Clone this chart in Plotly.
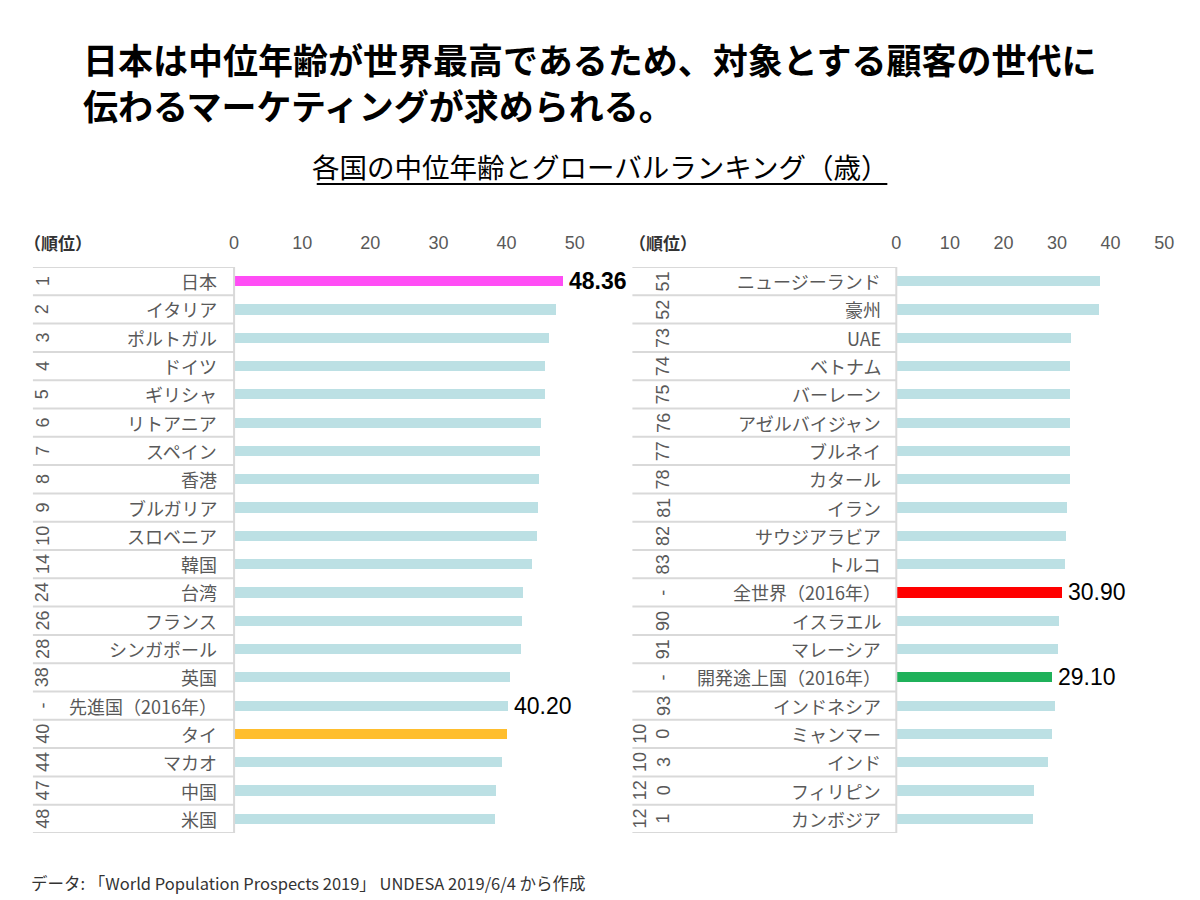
import plotly.graph_objects as go

# ---------------- data ----------------
names_left = ["日本", "イタリア", "ポルトガル", "ドイツ", "ギリシャ", "リトアニア", "スペイン", "香港",
              "ブルガリア", "スロベニア", "韓国", "台湾", "フランス", "シンガポール", "英国",
              "先進国（2016年）", "タイ", "マカオ", "中国", "米国"]
ranks_left = ["1", "2", "3", "4", "5", "6", "7", "8", "9", "10", "14", "24", "26", "28", "38",
              "-", "40", "44", "47", "48"]
values_left = [48.36, 47.3, 46.2, 45.7, 45.6, 45.1, 44.9, 44.8, 44.6, 44.5, 43.7, 42.5, 42.3,
               42.2, 40.5, 40.2, 40.1, 39.4, 38.4, 38.3]

names_right = ["ニュージーランド", "豪州", "UAE", "ベトナム", "バーレーン", "アゼルバイジャン", "ブルネイ",
               "カタール", "イラン", "サウジアラビア", "トルコ", "全世界（2016年）", "イスラエル", "マレーシア",
               "開発途上国（2016年）", "インドネシア", "ミャンマー", "インド", "フィリピン", "カンボジア"]
ranks_right = ["51", "52", "73", "74", "75", "76", "77", "78", "81", "82", "83", "-", "90", "91",
               "-", "93", "100", "103", "120", "121"]
values_right = [38.0, 37.9, 32.6, 32.5, 32.5, 32.4, 32.4, 32.4, 32.0, 31.8, 31.5, 30.9, 30.4,
                30.3, 29.1, 29.7, 29.2, 28.4, 25.7, 25.6]

highlight = {"日本": "#FF4DF5", "タイ": "#FFBE2E", "全世界（2016年）": "#FF0000",
             "開発途上国（2016年）": "#1FB15A"}
labelled = {"日本": ("48.36", True), "先進国（2016年）": ("40.20", False),
            "全世界（2016年）": ("30.90", False), "開発途上国（2016年）": ("29.10", False)}
ticks = [0, 10, 20, 30, 40, 50]

BASE = "#BCE0E4"
W, H = 1200, 900
OFF = 8   # page body margin
JP = "Noto Sans CJK JP"
LAT = "Liberation Sans, Arial, sans-serif"
GREY = "#595959"
LINE = "#D9D9D9"

# layout geometry (pixels, in screenshot coordinates)
ROW_TOP, ROW_BOT = 267, 833
L0, LPX = 230, 6.84      # left x=0 pixel, px per unit
R0, RPX = 895, 5.38
XMAX = 55


def px(x):
    return (x - OFF) / W


def py(y):
    return 1 - (y - OFF) / H


fig = go.Figure()

panels = [
    dict(names=names_left, ranks=ranks_left, vals=values_left, xa="x", ya="y",
         tab_l=28, zero=L0, rank_r=50, name_r=215),
    dict(names=names_right, ranks=ranks_right, vals=values_right, xa="x2", ya="y2",
         tab_l=630, zero=R0, rank_r=673, name_r=882),
]

annotations = []
shapes = []

for p in panels:
    n = len(p["names"])
    cols = [highlight.get(nm, BASE) for nm in p["names"]]
    fig.add_trace(go.Bar(
        x=p["vals"], y=list(range(n)), orientation="h", width=0.36,
        marker=dict(color=cols, line=dict(width=0)),
        xaxis=p["xa"], yaxis=p["ya"], showlegend=False, hoverinfo="x",
    ))
    yref = p["ya"]
    for i in range(n + 1):
        shapes.append(dict(type="line", xref="paper", yref=yref,
                           x0=px(p["tab_l"]), x1=px(p["zero"]), y0=i - 0.5, y1=i - 0.5,
                           line=dict(color=LINE, width=2)))
    shapes.append(dict(type="line", xref="paper", yref=yref,
                       x0=px(p["zero"]), x1=px(p["zero"]), y0=-0.5, y1=n - 0.5,
                       line=dict(color=LINE, width=2)))
    for i, (nm, rk, v) in enumerate(zip(p["names"], p["ranks"], p["vals"])):
        rk_txt = "<br>".join([rk[j:j + 2] for j in range(0, len(rk), 2)])
        annotations.append(dict(xref="paper", yref=yref, x=px(p["rank_r"]), y=i,
                                text=rk_txt, textangle=-90, showarrow=False,
                                xanchor="right", yanchor="middle",
                                font=dict(family=LAT, size=18, color=GREY)))
        annotations.append(dict(xref="paper", yref=yref, x=px(p["name_r"]), y=i,
                                text=nm, showarrow=False, xanchor="right", yanchor="middle",
                                font=dict(family=JP, size=18, color=GREY)))
        if nm in labelled:
            t, bold = labelled[nm]
            annotations.append(dict(xref=p["xa"], yref=yref, x=v, y=i,
                                    text=f"<b>{t}</b>" if bold else t, showarrow=False,
                                    xanchor="left", yanchor="middle", xshift=4,
                                    font=dict(family=LAT, size=23, color="#000000")))

for x0 in (17, 625):
    annotations.append(dict(xref="paper", yref="paper", x=px(x0), y=py(242),
                            text="<b>（順位）</b>",
                            showarrow=False, xanchor="left", yanchor="middle",
                            font=dict(family=JP, size=17, color="#333333")))

annotations.append(dict(xref="paper", yref="paper", x=px(76), y=py(58),
                        text="<b>日本は中位年齢が世界最高であるため、対象とする顧客の世代に</b>",
                        showarrow=False, xanchor="left", yanchor="middle",
                        font=dict(family=JP, size=35, color="#000000")))
annotations.append(dict(xref="paper", yref="paper", x=px(76), y=py(105),
                        text="<b>伝わるマーケティングが求められる。</b>",
                        showarrow=False, xanchor="left", yanchor="middle",
                        font=dict(family=JP, size=35, color="#000000")))
annotations.append(dict(xref="paper", yref="paper", x=px(597), y=py(166),
                        text="各国の中位年齢とグローバルランキング（歳）",
                        showarrow=False, xanchor="center", yanchor="middle",
                        font=dict(family=JP, size=27.5, color="#000000")))
shapes.append(dict(type="line", xref="paper", yref="paper", x0=px(313), x1=px(886),
                   y0=py(184), y1=py(184), line=dict(color="#000000", width=2)))

annotations.append(dict(xref="paper", yref="paper", x=px(24), y=py(883),
                        text="データ: 「World Population Prospects 2019」 UNDESA 2019/6/4 から作成",
                        showarrow=False, xanchor="left", yanchor="middle",
                        font=dict(family=JP, size=16.5, color="#333333")))

ydom = [py(ROW_BOT), py(ROW_TOP)]
xcommon = dict(range=[0, XMAX], side="top", tickvals=ticks, showgrid=False, zeroline=False,
               showline=False, ticks="outside", ticklen=10, tickcolor="rgba(0,0,0,0)",
               tickfont=dict(family=LAT, size=18, color=GREY), fixedrange=True)
ycommon = dict(range=[len(names_left) - 0.5, -0.5], visible=False, domain=ydom, fixedrange=True)

fig.update_layout(
    width=W, height=H, margin=dict(l=0, r=0, t=0, b=0, pad=0),
    paper_bgcolor="white", plot_bgcolor="white", bargap=0,
    xaxis=dict(domain=[px(L0), px(L0 + XMAX * LPX)], anchor="y", **xcommon),
    yaxis=dict(anchor="x", **ycommon),
    xaxis2=dict(domain=[px(R0), px(R0 + XMAX * RPX)], anchor="y2", **xcommon),
    yaxis2=dict(anchor="x2", **ycommon),
    annotations=annotations, shapes=shapes,
)

fig.write_html("out.html")
